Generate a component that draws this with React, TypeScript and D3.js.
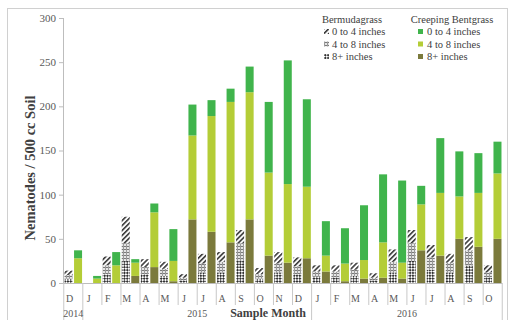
import * as d3 from "d3";

// sample months, Dec 2014 .. Oct 2016
const months = ["D", "J", "F", "M", "A", "M", "J", "J", "A", "S", "O", "N", "D", "J", "F", "M", "A", "M", "J", "J", "A", "S", "O"];
const yearLabels = ["2014", "2015", "2016"];
const yearStart = [0, 1, 13];

// Bermudagrass, nematodes / 500 cc soil by depth
const bermuda8plus = [5, 0, 10, 25, 10, 8, 3, 12, 12, 25, 5, 12, 10, 7, 6, 8, 3, 12, 25, 15, 12, 20, 6];
const bermuda4to8 = [4, 0, 10, 20, 8, 8, 3, 10, 12, 20, 5, 10, 9, 6, 7, 7, 3, 12, 20, 14, 11, 17, 6];
const bermuda0to4 = [5, 0, 10, 30, 9, 8, 4, 11, 11, 15, 7, 13, 10, 7, 7, 8, 5, 14, 15, 14, 10, 15, 8];

// Creeping Bentgrass
const bent8plus = [0, 0, 0, 8, 18, 2, 72, 58, 46, 72, 31, 23, 28, 13, 2, 5, 6, 5, 37, 31, 50, 41, 50];
const bent4to8 = [28, 5, 20, 15, 62, 23, 95, 131, 159, 144, 94, 89, 81, 18, 20, 21, 40, 18, 52, 71, 48, 61, 74];
const bent0to4 = [9, 3, 15, 4, 10, 36, 35, 18, 15, 29, 80, 140, 99, 39, 40, 62, 77, 93, 21, 62, 51, 45, 36];

const yTicks = [0, 50, 100, 150, 200, 250, 300];

const keys = ["p8", "p48", "p04"];
const bermudaFills = ["url(#b8)", "url(#b48)", "url(#b04)"];
const bentFills = ["#7b7a3c", "#b4cd37", "#40b44c"];

const FONT = "'Liberation Serif', 'DejaVu Serif', serif";

export default function App() {
  const W = 508;
  const H = 320;
  const y = d3.scaleLinear().domain([0, 300]).range([283, 18]);
  const x = d3
    .scaleBand<number>()
    .domain(d3.range(months.length * 2))
    .range([63, 503])
    .paddingInner(0.16)
    .paddingOuter(0.16);
  const bw = x.bandwidth();
  const gap = x.step() * 0.08;
  const monthStart = (k: number) => (k < months.length ? x(2 * k)! - gap : x(2 * k - 1)! + bw + gap);

  const rowsB = months.map((_, i) => ({ p8: bermuda8plus[i], p48: bermuda4to8[i], p04: bermuda0to4[i] }));
  const rowsC = months.map((_, i) => ({ p8: bent8plus[i], p48: bent4to8[i], p04: bent0to4[i] }));
  const stack = d3.stack<any>().keys(keys);
  const stB = stack(rowsB);
  const stC = stack(rowsC);

  const legendB = ["0 to 4 inches", "4 to 8 inches", "8+ inches"];

  return (
    <div style={{ position: "fixed", left: 0, top: 0 }}>
      <svg width={W} height={H} style={{ display: "block", background: "#fff" }}>
        <defs>
          <pattern id="b04" width="3.5" height="3.5" patternUnits="userSpaceOnUse" patternTransform="rotate(-45)">
            <rect width="3.5" height="3.5" fill="#fff" />
            <rect width="3.5" height="1.6" fill="#3a3a3a" />
          </pattern>
          <pattern id="b48" width="3" height="3" patternUnits="userSpaceOnUse">
            <rect width="3" height="3" fill="#e4e4e4" />
            <rect width="3" height="1" fill="#7a7a7a" />
            <rect width="1" height="3" fill="#9a9a9a" />
          </pattern>
          <pattern id="b8" width="4" height="4" patternUnits="userSpaceOnUse" patternTransform="rotate(45)">
            <rect width="4" height="4" fill="#fff" />
            <rect width="2" height="2" fill="#303030" />
            <rect x="2" y="2" width="2" height="2" fill="#303030" />
          </pattern>
        </defs>

        <rect x={7.5} y={8.5} width={500} height={312} fill="none" stroke="#d0d0d0" />

        {/* y axis */}
        <line x1={63.5} x2={63.5} y1={y(300)} y2={y(0)} stroke="#bdbdbd" />
        {yTicks.map((t) => (
          <g key={t}>
            <line x1={59} x2={63.5} y1={y(t) + 0.5} y2={y(t) + 0.5} stroke="#bdbdbd" />
            <text x={56} y={y(t)} dy="0.35em" textAnchor="end" fontSize={11} fill="#595959" fontFamily={FONT}>
              {t}
            </text>
          </g>
        ))}
        <text
          transform="translate(34.5,168) rotate(-90)"
          textAnchor="middle"
          fontSize={14.5}
          fontWeight="bold"
          fill="#404040"
          fontFamily={FONT}
        >
          Nematodes / 500 cc Soil
        </text>

        {/* bars */}
        {stB.map((s, si) =>
          s.map((d, i) => (
            <rect
              key={"b" + si + "-" + i}
              x={x(2 * i)}
              y={y(d[1])}
              width={bw}
              height={y(d[0]) - y(d[1])}
              fill={bermudaFills[si]}
            />
          ))
        )}
        {stC.map((s, si) =>
          s.map((d, i) => (
            <rect
              key={"c" + si + "-" + i}
              x={x(2 * i + 1)}
              y={y(d[1])}
              width={bw}
              height={y(d[0]) - y(d[1])}
              fill={bentFills[si]}
            />
          ))
        )}

        {/* category axis */}
        <line x1={63} x2={monthStart(months.length)} y1={y(0) + 0.5} y2={y(0) + 0.5} stroke="#bdbdbd" />
        {d3.range(months.length + 1).map((k) => {
          const isYear = yearStart.includes(k) || k === months.length;
          return (
            <line
              key={"sep" + k}
              x1={monthStart(k)}
              x2={monthStart(k)}
              y1={y(0)}
              y2={isYear ? 320 : 305}
              stroke="#c8c8c8"
            />
          );
        })}
        {months.map((m, k) => (
          <text
            key={"m" + k}
            x={x(2 * k)! + bw / 2 + 1}
            y={302}
            textAnchor="middle"
            fontSize={10}
            fill="#595959"
            fontFamily={FONT}
          >
            {m}
          </text>
        ))}
        {yearLabels.map((yl, i) => {
          const a = monthStart(yearStart[i]);
          const b = monthStart(i + 1 < yearStart.length ? yearStart[i + 1] : months.length);
          return (
            <text key={yl} x={(a + b) / 2} y={317} textAnchor="middle" fontSize={10} fill="#595959" fontFamily={FONT}>
              {yl}
            </text>
          );
        })}
        <text x={268} y={317} textAnchor="middle" fontSize={12} fontWeight="bold" fill="#404040" fontFamily={FONT}>
          Sample Month
        </text>

        {/* legend */}
        <text x={352} y={23} textAnchor="middle" fontSize={10.5} fill="#404040" fontFamily={FONT}>
          Bermudagrass
        </text>
        <text x={452} y={23} textAnchor="middle" fontSize={10.5} fill="#404040" fontFamily={FONT}>
          Creeping Bentgrass
        </text>
        {legendB.map((lab, i) => {
          const fi = 2 - i;
          const ly = 35 + i * 12.5;
          return (
            <g key={lab}>
              <rect x={324} y={ly - 6} width={5} height={5} fill={bermudaFills[fi]} />
              <text x={332} y={ly} fontSize={10.5} fill="#404040" fontFamily={FONT}>
                {lab}
              </text>
              <rect x={418} y={ly - 6} width={5} height={5} fill={bentFills[fi]} />
              <text x={427} y={ly} fontSize={10.5} fill="#404040" fontFamily={FONT}>
                {lab}
              </text>
            </g>
          );
        })}
      </svg>
    </div>
  );
}
